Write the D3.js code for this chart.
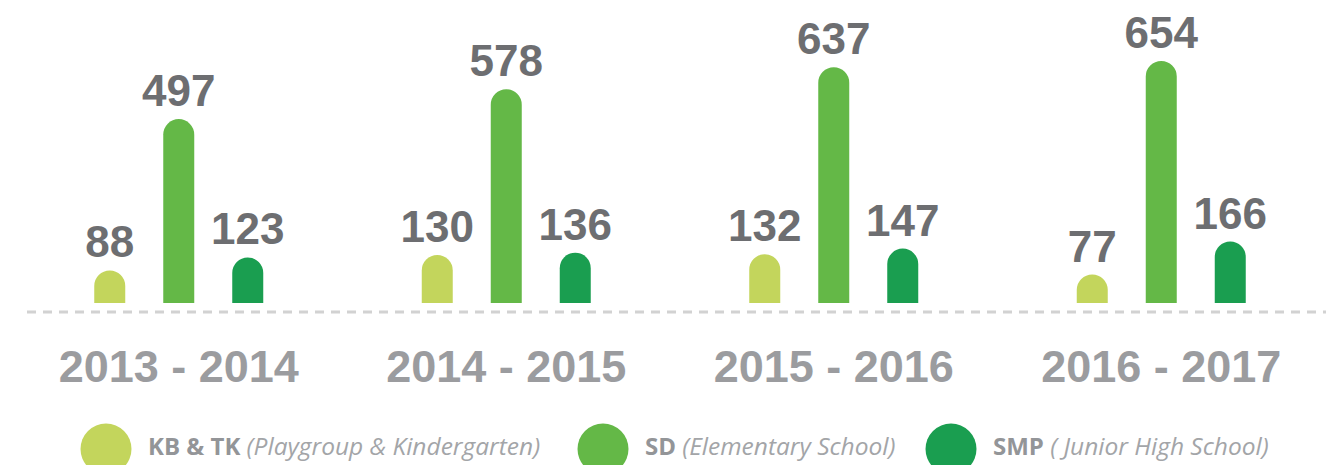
<!DOCTYPE html>
<html>
<head>
<meta charset="utf-8">
<script src="https://cdn.jsdelivr.net/npm/d3@7"></script>
<style>
  html, body { margin: 0; padding: 0; background: #ffffff; }
  svg { display: block; }
</style>
</head>
<body>
<div id="chart"></div>
<script>
// School years shown on the axis
const years = ["2013 - 2014", "2014 - 2015", "2015 - 2016", "2016 - 2017"];
// Enrolment per school level
const series = ["KB & TK", "SD", "SMP"];
const kbValues  = [88, 130, 132, 77];
const sdValues  = [497, 578, 637, 654];
const smpValues = [123, 136, 147, 166];
// Legend captions
const legendNames = ["KB & TK", "SD", "SMP"];
const legendNotes = ["(Playgroup & Kindergarten)", "(Elementary School)", "( Junior High School)"];

const colors = ["#c3d55c", "#64b847", "#1a9e50"];
const valuesBySeries = [kbValues, sdValues, smpValues];

const W = 1326, H = 465;
const svg = d3.select("#chart").append("svg")
  .attr("width", W).attr("height", H);

const x0 = d3.scaleBand().domain(years).range([15, 1325]).padding(0);
const x1 = d3.scalePoint().domain(series).range([-69, 69]);
const y = d3.scaleLinear().domain([0, 700]).range([303, 44]);
const barW = 31;

const rows = years.flatMap((yr, i) =>
  series.map((s, j) => ({ year: yr, series: s, value: valuesBySeries[j][i], color: colors[j] })));

// Bar with a rounded (semicircular) top
function barPath(d) {
  const cx = x0(d.year) + x0.bandwidth() / 2 + x1(d.series);
  const left = cx - barW / 2, right = cx + barW / 2;
  const r = barW / 2;
  const top = y(d.value), bottom = y(0);
  const p = d3.path();
  p.moveTo(left, bottom);
  p.lineTo(left, top + r);
  p.arc(cx, top + r, r, Math.PI, 0);
  p.lineTo(right, bottom);
  p.closePath();
  return p.toString();
}

svg.append("g").selectAll("path").data(rows).join("path")
  .attr("d", barPath)
  .attr("fill", d => d.color);

// Value labels above the bars
svg.append("g").selectAll("text").data(rows).join("text")
  .attr("x", d => x0(d.year) + x0.bandwidth() / 2 + x1(d.series))
  .attr("y", d => y(d.value) - 13)
  .attr("text-anchor", "middle")
  .attr("font-family", "'Liberation Sans', Arial, sans-serif")
  .attr("font-weight", "bold")
  .attr("font-size", 44)
  .attr("fill", "#6d6e71")
  .text(d => d.value);

// Dashed baseline
svg.append("line")
  .attr("x1", 27).attr("x2", W)
  .attr("y1", 312).attr("y2", 312)
  .attr("stroke", "#d2d2d2")
  .attr("stroke-width", 3)
  .attr("stroke-dasharray", "9,7");

// Year labels
svg.append("g").selectAll("text").data(years).join("text")
  .attr("x", d => x0(d) + x0.bandwidth() / 2)
  .attr("y", 382)
  .attr("text-anchor", "middle")
  .attr("font-family", "'Liberation Sans', Arial, sans-serif")
  .attr("font-weight", "bold")
  .attr("font-size", 45)
  .attr("fill", "#9b9c9f")
  .text(d => d);

// Legend
const legendX = [106, 603, 951];
const legend = svg.append("g").selectAll("g").data(legendNames).join("g")
  .attr("transform", (d, i) => `translate(${legendX[i]},0)`);

legend.append("circle")
  .attr("cx", 0).attr("cy", 449).attr("r", 25.5)
  .attr("fill", (d, i) => colors[i]);

const lt = legend.append("text")
  .attr("x", 42).attr("y", 455)
  .attr("font-family", "'Open Sans', sans-serif")
  .attr("font-size", 24);
lt.append("tspan")
  .attr("font-weight", "bold")
  .attr("fill", "#939598")
  .text(d => d + " ");
lt.append("tspan")
  .attr("font-style", "italic")
  .attr("font-size", 24.5)
  .attr("fill", "#a3a5a8")
  .text((d, i) => legendNotes[i]);
</script>
</body>
</html>
